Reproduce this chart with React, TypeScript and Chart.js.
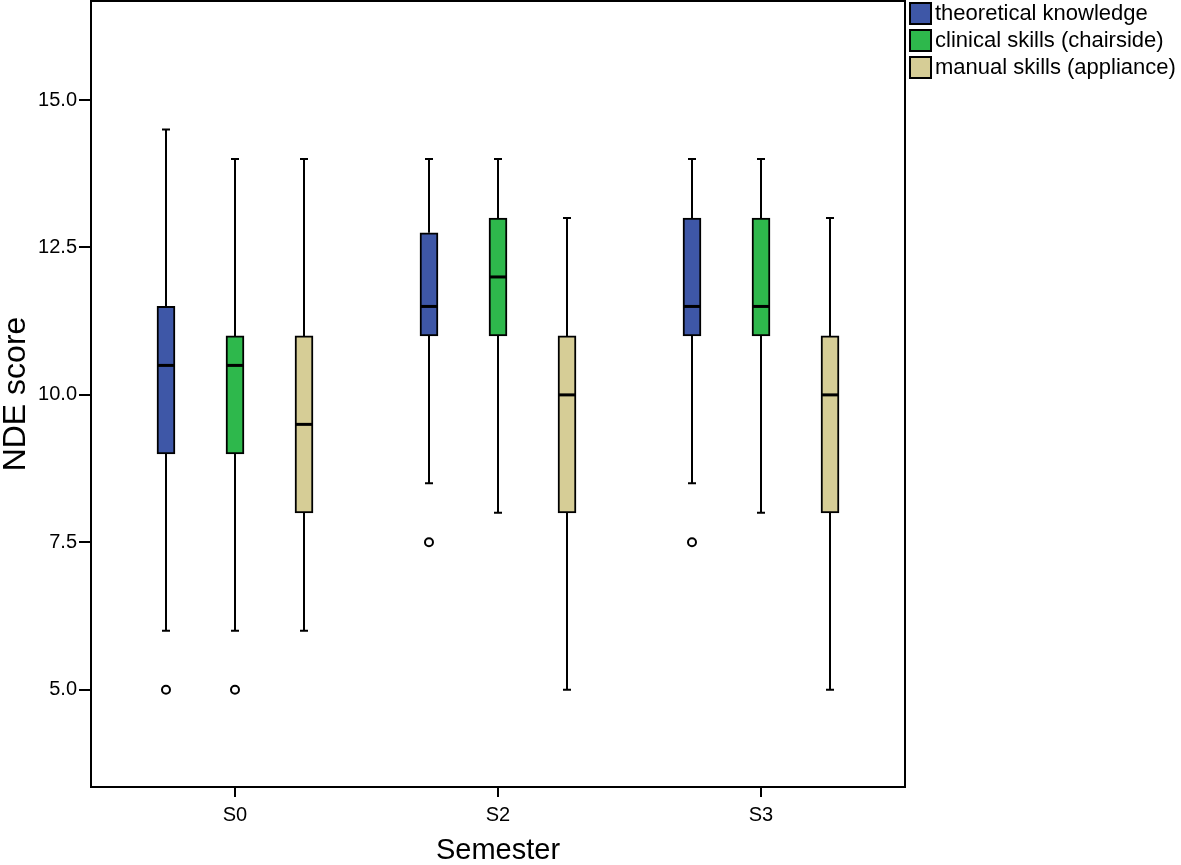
import React, { useEffect, useRef } from 'react';
import { Chart, registerables } from 'chart.js';

Chart.register(...registerables);

// ---------- data ----------
const categories = ['S0', 'S2', 'S3'];
const seriesNames = ['theoretical knowledge', 'clinical skills (chairside)', 'manual skills (appliance)'];
const seriesColors = ['#3E57A7', '#2EB84C', '#D6CD96'];

const theoreticalMin = [6, 8.5, 8.5];
const theoreticalQ1 = [9, 11, 11];
const theoreticalMedian = [10.5, 11.5, 11.5];
const theoreticalQ3 = [11.5, 12.75, 13];
const theoreticalMax = [14.5, 14, 14];
const theoreticalOutliers = [[5], [7.5], [7.5]];

const clinicalMin = [6, 8, 8];
const clinicalQ1 = [9, 11, 11];
const clinicalMedian = [10.5, 12, 11.5];
const clinicalQ3 = [11, 13, 13];
const clinicalMax = [14, 14, 14];
const clinicalOutliers = [[5], [], []];

const manualMin = [6, 5, 5];
const manualQ1 = [8, 8, 8];
const manualMedian = [9.5, 10, 10];
const manualQ3 = [11, 11, 11];
const manualMax = [14, 13, 13];
const manualOutliers: number[][] = [[], [], []];

const yTickValues = [5, 7.5, 10, 12.5, 15];
const yTitle = 'NDE score';
const xTitle = 'Semester';

// ---------- derived structures ----------
const seriesOffsets = [-0.2624, 0, 0.2624];
const seriesStats = [
  { min: theoreticalMin, q1: theoreticalQ1, med: theoreticalMedian, q3: theoreticalQ3, max: theoreticalMax, out: theoreticalOutliers },
  { min: clinicalMin, q1: clinicalQ1, med: clinicalMedian, q3: clinicalQ3, max: clinicalMax, out: clinicalOutliers },
  { min: manualMin, q1: manualQ1, med: manualMedian, q3: manualQ3, max: manualMax, out: manualOutliers },
];

const FONT = '"Liberation Sans", Arial, Helvetica, sans-serif';
const BOX_W = 18;
const CAP_HALF = 4;

const boxPlugin = {
  id: 'boxParts',
  beforeDatasetsDraw(chart: any) {
    const { ctx, scales } = chart;
    const xs = scales.x, ys = scales.y;
    ctx.save();
    ctx.strokeStyle = '#000';
    ctx.lineWidth = 2;
    seriesStats.forEach((st, s) => {
      categories.forEach((_, i) => {
        const x = Math.round(xs.getPixelForValue(i + seriesOffsets[s]));
        const pMin = ys.getPixelForValue(st.min[i]);
        const pQ1 = ys.getPixelForValue(st.q1[i]);
        const pQ3 = ys.getPixelForValue(st.q3[i]);
        const pMax = ys.getPixelForValue(st.max[i]);
        ctx.beginPath();
        ctx.moveTo(x, pMin); ctx.lineTo(x, pQ1);
        ctx.moveTo(x, pQ3); ctx.lineTo(x, pMax);
        ctx.moveTo(x - CAP_HALF, pMin); ctx.lineTo(x + CAP_HALF, pMin);
        ctx.moveTo(x - CAP_HALF, pMax); ctx.lineTo(x + CAP_HALF, pMax);
        ctx.stroke();
      });
    });
    ctx.restore();
  },
  afterDatasetsDraw(chart: any) {
    const { ctx, scales } = chart;
    const xs = scales.x, ys = scales.y;
    ctx.save();
    ctx.strokeStyle = '#000';
    ctx.lineWidth = 3;
    seriesStats.forEach((st, s) => {
      categories.forEach((_, i) => {
        const x = Math.round(xs.getPixelForValue(i + seriesOffsets[s]));
        const pMed = ys.getPixelForValue(st.med[i]);
        ctx.beginPath();
        ctx.moveTo(x - BOX_W / 2, pMed); ctx.lineTo(x + BOX_W / 2, pMed);
        ctx.stroke();
      });
    });
    ctx.restore();
  },
  afterDraw(chart: any) {
    const { ctx, chartArea } = chart;
    ctx.save();
    // frame
    ctx.strokeStyle = '#000';
    ctx.lineWidth = 2;
    ctx.strokeRect(chartArea.left, chartArea.top, chartArea.right - chartArea.left, chartArea.bottom - chartArea.top);
    // legend
    const lx = chartArea.right + 5;
    ctx.font = `22px ${FONT}`;
    ctx.textBaseline = 'middle';
    ctx.textAlign = 'left';
    seriesNames.forEach((name, i) => {
      const y = 3 + i * 27;
      ctx.fillStyle = seriesColors[i];
      ctx.fillRect(lx, y, 21, 21);
      ctx.lineWidth = 2;
      ctx.strokeStyle = '#000';
      ctx.strokeRect(lx, y, 21, 21);
      ctx.fillStyle = '#000';
      ctx.fillText(name, lx + 25, y + 11);
    });
    ctx.restore();
  },
};

export default function App() {
  const ref = useRef<HTMLCanvasElement>(null);
  useEffect(() => {
    if (!ref.current) return;
    Chart.defaults.font.family = FONT;
    Chart.defaults.color = '#000';
    const datasets: any[] = seriesNames.map((name, s) => ({
      type: 'bar',
      label: name,
      data: categories.map((_, i) => ({ x: i + seriesOffsets[s], y: [seriesStats[s].q1[i], seriesStats[s].q3[i]] })),
      backgroundColor: seriesColors[s],
      borderColor: '#000',
      borderWidth: 2,
      borderSkipped: false,
      barThickness: BOX_W,
      grouped: false,
    }));
    const outlierPoints: { x: number; y: number }[] = [];
    seriesStats.forEach((st, s) => {
      st.out.forEach((vals, i) => vals.forEach((v) => outlierPoints.push({ x: i + seriesOffsets[s], y: v })));
    });
    datasets.push({
      type: 'scatter',
      label: 'outliers',
      data: outlierPoints,
      pointRadius: 4,
      pointBorderWidth: 2,
      pointBackgroundColor: '#fff',
      pointBorderColor: '#000',
    });
    const chart = new Chart(ref.current, {
      type: 'bar',
      data: { datasets },
      options: {
        animation: false,
        responsive: false,
        devicePixelRatio: 1,
        layout: { autoPadding: false, padding: { top: 1, right: 276, left: 0, bottom: 0 } },
        plugins: { legend: { display: false }, tooltip: { enabled: false } },
        scales: {
          x: {
            type: 'linear',
            offset: false,
            min: -0.5475,
            max: 2.5475,
            afterBuildTicks: (scale: any) => { scale.ticks = categories.map((_, i) => ({ value: i })); },
            afterFit: (scale: any) => { scale.height = 78; scale.paddingLeft = 0; scale.paddingRight = 0; },
            ticks: {
              callback: (v: any) => categories[Math.round(Number(v))],
              font: { size: 20 },
              color: '#000',
              padding: 6,
              maxRotation: 0,
            },
            grid: { offset: false, drawOnChartArea: false, drawTicks: true, tickLength: 10, color: '#000', lineWidth: 2 },
            border: { display: false },
            title: { display: true, text: xTitle, font: { size: 29, lineHeight: 1 }, padding: 0, color: '#000' },
          },
          y: {
            type: 'linear',
            min: 3.35,
            max: 16.68,
            afterBuildTicks: (scale: any) => { scale.ticks = yTickValues.map((v) => ({ value: v })); },
            afterFit: (scale: any) => { scale.width = 91; scale.paddingTop = 0; scale.paddingBottom = 0; },
            ticks: {
              callback: (v: any) => Number(v).toFixed(1),
              font: { size: 20 },
              color: '#000',
              padding: 2,
            },
            grid: { drawOnChartArea: false, drawTicks: true, tickLength: 12, color: '#000', lineWidth: 2 },
            border: { display: false },
            title: { display: true, text: yTitle, font: { size: 32, lineHeight: 1 }, padding: 0, color: '#000' },
          },
        },
      },
      plugins: [boxPlugin],
    } as any);
    return () => chart.destroy();
  }, []);
  return (
    <div style={{ position: 'fixed', left: 0, top: 0, width: 1181, height: 865, background: '#fff' }}>
      <canvas ref={ref} width={1181} height={865} style={{ display: 'block', width: 1181, height: 865 }} />
    </div>
  );
}
